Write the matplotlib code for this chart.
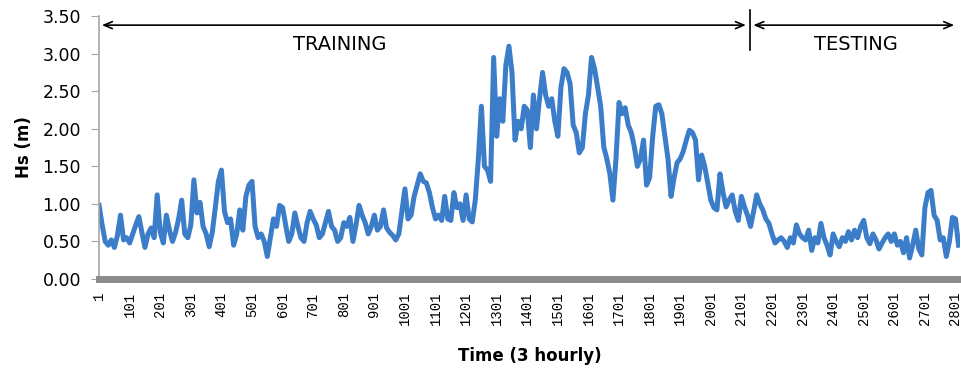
import numpy as np
import matplotlib.pyplot as plt

# Hs series, one value every 10 time steps (3 hourly)
hs = [
    0.98, 0.72, 0.50, 0.45, 0.52, 0.42, 0.58, 0.85, 0.52, 0.55,
    0.48, 0.60, 0.72, 0.83, 0.62, 0.42, 0.60, 0.68, 0.55, 1.12,
    0.62, 0.48, 0.85, 0.65, 0.50, 0.62, 0.80, 1.05, 0.60, 0.55,
    0.72, 1.32, 0.88, 1.02, 0.70, 0.60, 0.43, 0.62, 0.95, 1.30,
    1.45, 0.90, 0.75, 0.80, 0.45, 0.60, 0.92, 0.65, 1.10, 1.25,
    1.30, 0.70, 0.55, 0.60, 0.50, 0.30, 0.55, 0.80, 0.70, 0.98,
    0.95, 0.72, 0.50, 0.60, 0.88, 0.70, 0.55, 0.50, 0.75, 0.90,
    0.80, 0.72, 0.55, 0.60, 0.75, 0.90, 0.70, 0.65, 0.50, 0.55,
    0.75, 0.70, 0.82, 0.50, 0.72, 0.98, 0.85, 0.75, 0.60, 0.70,
    0.85, 0.65, 0.70, 0.92, 0.68, 0.62, 0.58, 0.52, 0.60, 0.90,
    1.20, 0.80, 0.85, 1.10, 1.25, 1.40, 1.30, 1.28, 1.15, 0.95,
    0.80, 0.85, 0.78, 1.10, 0.80, 0.78, 1.15, 0.95, 1.00, 0.78,
    1.12, 0.80, 0.76, 1.05, 1.60, 2.30, 1.50, 1.45, 1.30, 2.95,
    1.90, 2.40, 2.10, 2.85, 3.10, 2.75, 1.85, 2.10, 2.00, 2.30,
    2.25, 1.75, 2.45, 2.00, 2.40, 2.75, 2.45, 2.30, 2.40, 2.10,
    1.90, 2.55, 2.80, 2.75, 2.60, 2.05, 1.95, 1.68, 1.75, 2.20,
    2.45, 2.95, 2.80, 2.55, 2.30, 1.76, 1.60, 1.40, 1.05, 1.60,
    2.35, 2.20, 2.28, 2.05, 1.95, 1.76, 1.50, 1.60, 1.85, 1.25,
    1.35, 1.90, 2.30, 2.32, 2.20, 1.90, 1.60, 1.10, 1.35, 1.55,
    1.60, 1.70, 1.85, 1.98, 1.95, 1.85, 1.32, 1.65, 1.50, 1.28,
    1.05, 0.95, 0.92, 1.40, 1.15, 0.96, 1.05, 1.12, 0.90, 0.78,
    1.10, 0.96, 0.85, 0.70, 0.90, 1.12, 1.00, 0.92, 0.80, 0.74,
    0.60, 0.48, 0.52, 0.55, 0.50, 0.42, 0.55, 0.48, 0.72, 0.60,
    0.55, 0.52, 0.65, 0.38, 0.55, 0.48, 0.74, 0.55, 0.45, 0.32,
    0.60, 0.50, 0.43, 0.55, 0.50, 0.63, 0.52, 0.65, 0.55, 0.70,
    0.78, 0.55, 0.47, 0.60, 0.52, 0.40, 0.48, 0.55, 0.60, 0.50,
    0.60, 0.45, 0.50, 0.35, 0.55, 0.28, 0.45, 0.65, 0.40, 0.32,
    0.95, 1.15, 1.18, 0.85, 0.78, 0.52, 0.55, 0.30, 0.50, 0.82, 0.80, 0.45,
]
t = np.arange(1, 10 * len(hs), 10)

xtick_labels = [str(v) for v in range(1, 2802, 100)]
yticks = [0.0, 0.5, 1.0, 1.5, 2.0, 2.5, 3.0, 3.5]
split_t = 2128  # end of training period
phase_labels = ['TRAINING', 'TESTING']

fig = plt.figure(figsize=(9.62, 3.75), dpi=100)
ax = fig.add_axes([0.103, 0.256, 0.895, 0.701])

ax.plot(t, hs, color='#3b7dc8', lw=3.6, solid_joinstyle='round')

ax.set_xlim(1, 2816)
ax.set_ylim(0, 3.5)

ax.set_yticks(yticks)
ax.set_yticklabels(['%.2f' % v for v in yticks], fontsize=12.5, family='DejaVu Sans')
ax.set_xticks([int(s) for s in xtick_labels])
ax.set_xticklabels(xtick_labels, rotation=90, fontsize=10, family='Liberation Mono')
ax.tick_params(axis='y', length=6, color='#a6a6a6', pad=7)
ax.tick_params(axis='x', length=0, pad=9)

for s in ['top', 'right']:
    ax.spines[s].set_visible(False)
ax.spines['left'].set_color('#a6a6a6')
ax.spines['left'].set_linewidth(1.2)
ax.spines['bottom'].set_color('#8c8c8c')
ax.spines['bottom'].set_linewidth(5)

ax.set_ylabel('Hs (m)', fontsize=12, fontweight='bold', labelpad=7)
ax.set_xlabel('Time (3 hourly)', fontsize=12, fontweight='bold', labelpad=16)

# training / testing arrows
arr_y = 3.38
ax.annotate('', xy=(1, arr_y), xytext=(split_t - 3, arr_y), annotation_clip=False,
            arrowprops=dict(arrowstyle='<->,head_length=0.6,head_width=0.25', color='black', lw=1.2))
ax.annotate('', xy=(split_t + 3, arr_y), xytext=(2806, arr_y), annotation_clip=False,
            arrowprops=dict(arrowstyle='<->,head_length=0.6,head_width=0.25', color='black', lw=1.2))
ax.plot([split_t, split_t], [3.05, 3.58], color='black', lw=1.2, clip_on=False)
ax.text(787, 3.12, phase_labels[0], ha='center', va='center', fontsize=14)
ax.text(2477, 3.12, phase_labels[1], ha='center', va='center', fontsize=14)

fig.savefig('out.png', dpi=100)
